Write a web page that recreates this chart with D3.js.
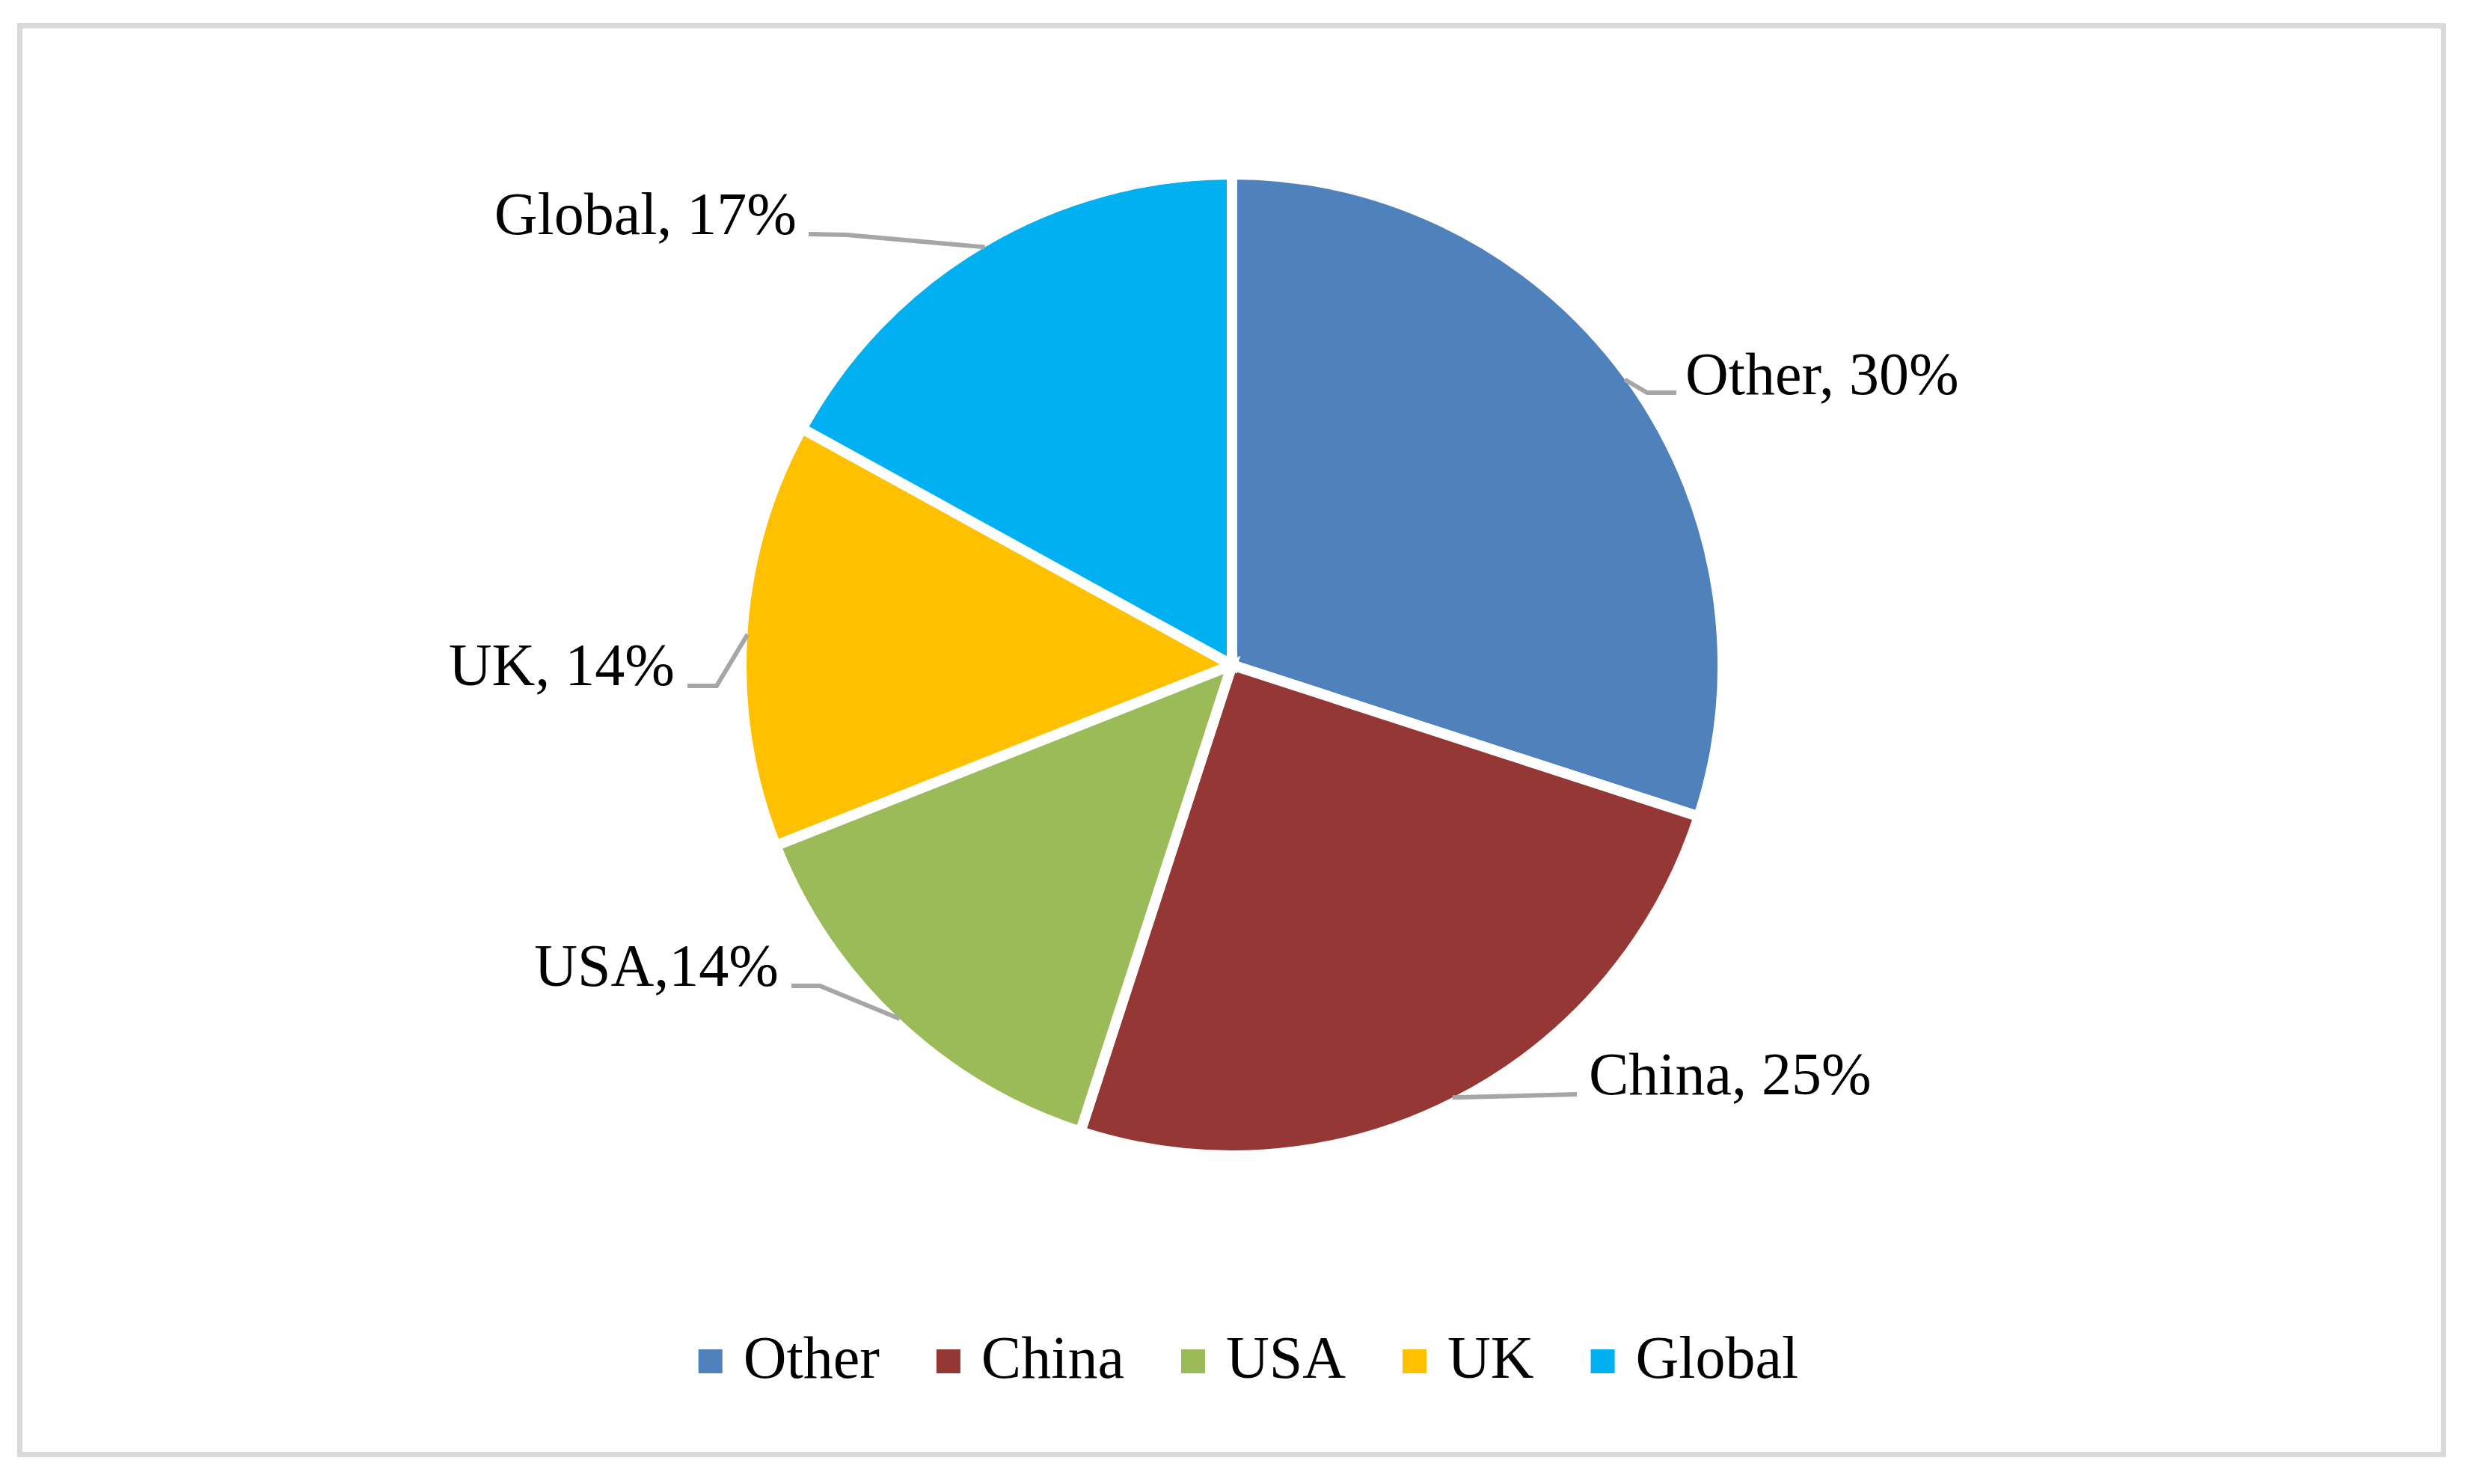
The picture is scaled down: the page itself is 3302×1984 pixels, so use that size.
<!DOCTYPE html>
<html>
<head>
  <meta charset="UTF-8">
  <style>
    body {
      margin: 0;
      background: #fff;
    }
    svg text {
      font-family: 'Palatino Linotype', 'Book Antiqua', Palatino, 'Liberation Serif', serif;
      fill: #000;
    }
  </style>
  <script src="https://d3js.org/d3.v7.min.js"></script>
</head>
<body>
<script>
// chart data
const categories = ['Other', 'China', 'USA', 'UK', 'Global'];
const shares = [30, 25, 14, 14, 17];
const labels = ['Other, 30%', 'China, 25%', 'USA,14%', 'UK, 14%', 'Global, 17%'];
const colours = ['#4f81bd', '#953735', '#9bbb59', '#ffc000', '#00b0f0'];

// where each data label sits, and the bends of its leader line
const labelLayout = [
  { x: 2253, y: 527, anchor: 'start', line: [[2202, 525], [2241, 525]] },
  { x: 2124, y: 1463, anchor: 'start', line: [[2108, 1463]] },
  { x: 1041, y: 1318, anchor: 'end', line: [[1096, 1318], [1058, 1318]] },
  { x: 902, y: 916, anchor: 'end', line: [[958, 917], [919, 917]] },
  { x: 1065, y: 313, anchor: 'end', line: [[1132, 314], [1081, 313]] }
];

const width = 3302, height = 1984;
const cx = 1647, cy = 889, radius = 649;
const fontSize = 80;

const svg = d3.select('body').append('svg')
  .attr('width', width)
  .attr('height', height);

// outer frame
svg.append('rect')
  .attr('x', 26.5)
  .attr('y', 34.5)
  .attr('width', 3240)
  .attr('height', 1910)
  .attr('fill', '#fff')
  .attr('stroke', '#d9d9d9')
  .attr('stroke-width', 7);

const data = categories.map((c, i) => ({ name: c, value: shares[i], label: labels[i], colour: colours[i] }));

const pie = d3.pie().value(d => d.value).sort(null);
const arcs = pie(data);

const arc = d3.arc().innerRadius(0).outerRadius(radius + 7);
const edge = d3.arc().innerRadius(radius).outerRadius(radius);

const g = svg.append('g').attr('transform', `translate(${cx},${cy})`);

g.selectAll('path.slice')
  .data(arcs)
  .join('path')
  .attr('class', 'slice')
  .attr('d', arc)
  .attr('fill', d => d.data.colour)
  .attr('stroke', '#fff')
  .attr('stroke-width', 14)
  .attr('stroke-linejoin', 'miter');

// leader lines
const line = d3.line();
svg.append('g').selectAll('path')
  .data(arcs)
  .join('path')
  .attr('d', (d, i) => {
    const p = edge.centroid(d);
    return line([[cx + p[0], cy + p[1]], ...labelLayout[i].line]);
  })
  .attr('fill', 'none')
  .attr('stroke', '#a6a6a6')
  .attr('stroke-width', 6);

// data labels
svg.append('g').selectAll('text')
  .data(arcs)
  .join('text')
  .attr('x', (d, i) => labelLayout[i].x)
  .attr('y', (d, i) => labelLayout[i].y)
  .attr('text-anchor', (d, i) => labelLayout[i].anchor)
  .style('font-size', fontSize + 'px')
  .text(d => d.data.label);

// legend
const legend = svg.append('g');
const items = legend.selectAll('g')
  .data(data)
  .join('g');

items.append('rect')
  .attr('width', 32)
  .attr('height', 32)
  .attr('y', 1804)
  .attr('fill', d => d.colour);

items.append('text')
  .attr('y', 1842)
  .style('font-size', fontSize + 'px')
  .text(d => d.name);

// lay the legend out from the measured text widths
const gap = 76;
let xPos = 0;
const starts = [];
items.each(function () {
  const w = d3.select(this).select('text').node().getComputedTextLength();
  starts.push(xPos);
  xPos += 32 + 28 + w + gap;
});
const total = xPos - gap;
const legendLeft = 1669 - total / 2;
items.each(function (d, i) {
  const sel = d3.select(this);
  sel.select('rect').attr('x', legendLeft + starts[i]);
  sel.select('text').attr('x', legendLeft + starts[i] + 60);
});
</script>
</body>
</html>
